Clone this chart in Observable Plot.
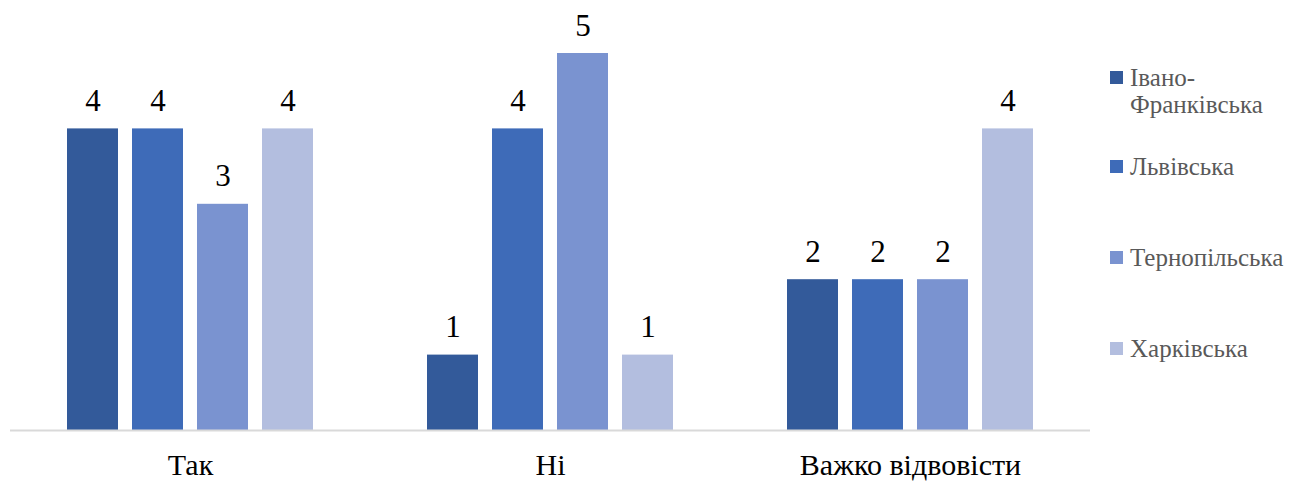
<!DOCTYPE html>
<html>
<head>
<meta charset="utf-8">
<script src="https://cdn.jsdelivr.net/npm/d3@7"></script>
<script src="https://cdn.jsdelivr.net/npm/@observablehq/plot@0.6"></script>
<style>
  html, body { margin: 0; padding: 0; background: #fff; }
  #wrap { position: relative; width: 1305px; height: 482px; font-family: 'Liberation Serif', 'Times New Roman', Tinos, 'Noto Serif', 'DejaVu Serif', FreeSerif, serif; }
  #wrap svg, #wrap svg text { font-family: 'Liberation Serif', 'Times New Roman', Tinos, 'Noto Serif', 'DejaVu Serif', FreeSerif, serif !important; }
  .lg { position: absolute; left: 1110px; display: flex; align-items: flex-start; color: #595959; font-size: 25px; line-height: 27px; }
  .sw { width: 13px; height: 13px; margin-right: 7px; margin-top: 7px; flex: none; }
</style>
</head>
<body>
<div id="wrap"></div>
<script>
const categories = ["Так", "Ні", "Важко відвовісти"];
const regions = ["Івано-Франківська", "Львівська", "Тернопільська", "Харківська"];
const ivanoFrankivska = [4, 1, 2];
const lvivska = [4, 4, 2];
const ternopilska = [3, 5, 2];
const kharkivska = [4, 1, 4];
const colors = ["#335A9A", "#3E6BB8", "#7A93D0", "#B3BEDF"];
const legendLabels = ["Івано-<br>Франківська", "Львівська", "Тернопільська", "Харківська"];
const legendTops = [64, 153, 244, 335];

const series = [ivanoFrankivska, lvivska, ternopilska, kharkivska];
const data = [];
categories.forEach((c, i) => {
  regions.forEach((r, j) => {
    data.push({category: c, region: r, value: series[j][i]});
  });
});

const chart = Plot.plot({
  width: 1305,
  height: 482,
  marginLeft: 10,
  marginRight: 215,
  marginTop: 53,
  marginBottom: 52,
  style: {fontFamily: "'Liberation Serif', 'Times New Roman', Tinos, 'Noto Serif', 'DejaVu Serif', FreeSerif, serif", background: "#fff"},
  fx: {domain: categories, padding: 0, label: null},
  x: {domain: regions, axis: null, paddingInner: 0.22, paddingOuter: 0.865},
  y: {domain: [0, 5], axis: null},
  color: {domain: regions, range: colors},
  marks: [
    Plot.barY(data, {fx: "category", x: "region", y: "value", fill: "region"}),
    Plot.text(data, {fx: "category", x: "region", y: "value", text: d => String(d.value), lineAnchor: "bottom", dy: -18, fontSize: 31, fill: "#000"}),
    Plot.ruleY([0], {stroke: "#D9D9D9", strokeWidth: 2}),
    Plot.axisFx({anchor: "bottom", tickSize: 0, tickPadding: 23, fontSize: 30, fill: "#000", label: null})
  ]
});
const wrap = document.getElementById("wrap");
wrap.appendChild(chart);

regions.forEach((r, j) => {
  const item = document.createElement("div");
  item.className = "lg";
  item.style.top = legendTops[j] + "px";
  item.innerHTML = `<div class="sw" style="background:${colors[j]}"></div><div>${legendLabels[j]}</div>`;
  wrap.appendChild(item);
});
</script>
</body>
</html>
